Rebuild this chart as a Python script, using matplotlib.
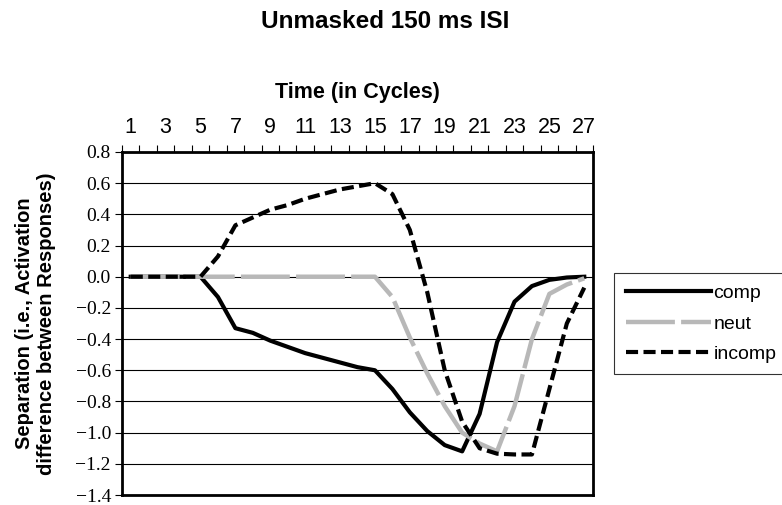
import numpy as np
import matplotlib.pyplot as plt

# Данные
cycles = list(range(1, 28))
comp = [0, 0, 0, 0, 0, -0.13, -0.33, -0.36, -0.41, -0.45, -0.49, -0.52, -0.55, -0.58,
        -0.60, -0.72, -0.87, -0.99, -1.08, -1.12, -0.88, -0.42, -0.16, -0.06, -0.02, -0.005, 0]
neut = [0, 0, 0, 0, 0, 0, 0, 0, 0, 0, 0, 0, 0, 0,
        0, -0.13, -0.39, -0.62, -0.83, -1.0, -1.07, -1.12, -0.83, -0.40, -0.11, -0.05, -0.01]
incomp = [0, 0, 0, 0, 0, 0.13, 0.33, 0.38, 0.43, 0.46, 0.50, 0.53, 0.56, 0.58,
          0.60, 0.53, 0.30, -0.10, -0.60, -0.93, -1.10, -1.135, -1.14, -1.14, -0.72, -0.30, -0.07]
yticks = np.round(np.arange(-1.4, 0.81, 0.2), 1)
xlabels = list(range(1, 28, 2))

plt.rcParams['font.serif'] = ['Liberation Serif', 'DejaVu Serif']

fig = plt.figure(figsize=(7.82, 5.05), dpi=100)
ax = fig.add_axes([122 / 782, 1 - 495 / 505, (593 - 122) / 782, (495 - 152) / 505])

for y in yticks:
    ax.axhline(y, color='black', lw=0.8, zorder=0)

ax.plot(cycles, comp, color='black', lw=3, solid_joinstyle='round', label='comp')
ax.plot(cycles, neut, color='#b8b8b8', lw=3.2, dashes=(11, 1.4), label='neut')
ax.plot(cycles, incomp, color='black', lw=3, dashes=(2.9, 1.3), label='incomp')

ax.set_xlim(0.5, 27.5)
ax.set_ylim(-1.4, 0.8)
ax.set_yticks(yticks)
ylabs = []
for v in yticks:
    s = f'{abs(v):.1f}' if v == 0 else f'{v:.1f}'
    ylabs.append(s.replace('-', '\u2212'))
ax.set_yticklabels(ylabs)
ax.tick_params(axis='y', length=5, width=0.8, direction='out', pad=3,
               labelsize=14, labelfontfamily='serif')

ax.xaxis.tick_top()
ax.xaxis.set_label_position('top')
ax.set_xticks(xlabels)
ax.set_xticklabels([str(v) for v in xlabels])
ax.set_xticks(np.arange(0.5, 28, 1), minor=True)
ax.tick_params(axis='x', which='major', length=0, pad=10, labelsize=15.5,
               labelfontfamily='Liberation Sans')
ax.tick_params(axis='x', which='minor', length=5, direction='out', width=0.8)
for s in ax.spines.values():
    s.set_linewidth(2)

ax.set_xlabel('Time (in Cycles)', fontsize=15.5, fontweight='bold',
              family='Liberation Sans', labelpad=14)
ax.set_ylabel('Separation (i.e., Activation\ndifference between Responses)',
              fontsize=14.5, fontweight='bold', family='Liberation Sans', labelpad=14)

fig.text(0.492, 0.958, 'Unmasked 150 ms ISI', ha='center', va='center',
         fontsize=17.5, fontweight='bold', family='Liberation Sans')

leg = fig.legend(loc='upper left', bbox_to_anchor=(614 / 782, 1 - 273 / 505),
                 borderaxespad=0, frameon=True, fancybox=False, edgecolor='black',
                 handlelength=4.4, handletextpad=0.12, borderpad=0.6,
                 labelspacing=0.65, prop={'family': 'Liberation Sans', 'size': 14})
leg.get_frame().set_linewidth(0.8)

plt.savefig('out.png', dpi=100)
